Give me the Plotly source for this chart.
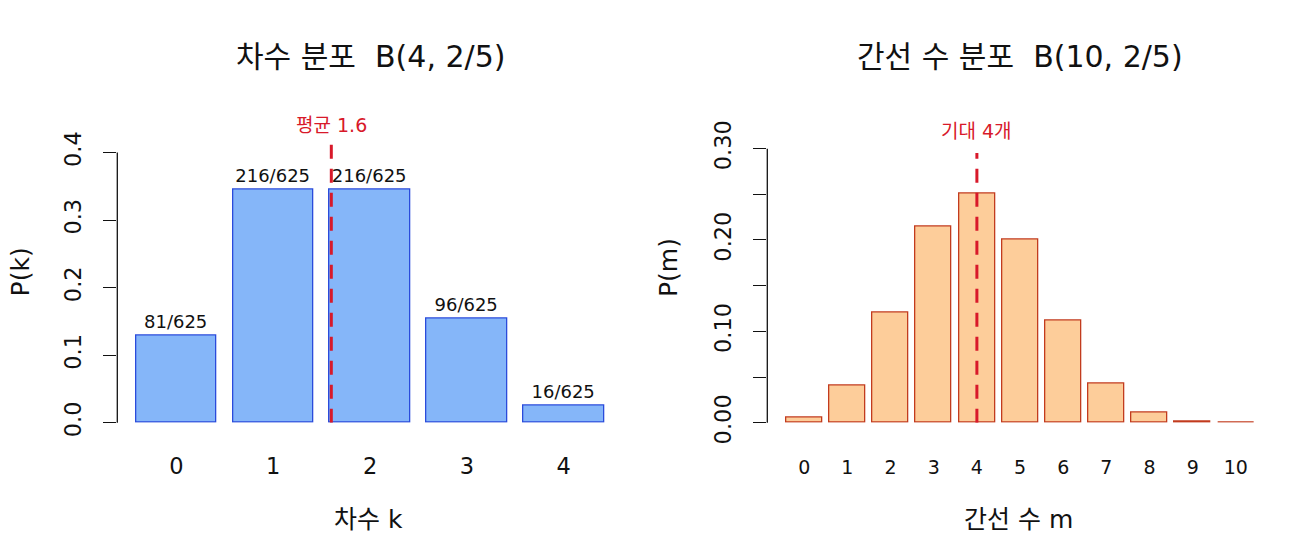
import plotly.graph_objects as go
from plotly.subplots import make_subplots

# left panel: degree distribution B(4, 2/5)
deg_k = [0, 1, 2, 3, 4]
deg_p = [0.1296, 0.3456, 0.3456, 0.1536, 0.0256]
deg_text = ["81/625", "216/625", "216/625", "96/625", "16/625"]
deg_mean = 1.6
deg_yticks = [0.0, 0.1, 0.2, 0.3, 0.4]
deg_yticktext = ["0.0", "0.1", "0.2", "0.3", "0.4"]

# right panel: number of edges B(10, 2/5)
edge_m = [0, 1, 2, 3, 4, 5, 6, 7, 8, 9, 10]
edge_p = [0.0060, 0.0403, 0.1209, 0.2150, 0.2508, 0.2007, 0.1115, 0.0425, 0.0106, 0.0016, 0.0001]
edge_mean = 4
edge_yticks = [0.0, 0.05, 0.10, 0.15, 0.20, 0.25, 0.30]
edge_yticktext = ["0.00", "", "0.10", "", "0.20", "", "0.30"]

FONT = "DejaVu Sans, Noto Sans CJK KR, sans-serif"
RED = "#D8192A"
INK = "#111111"

ytop_l = 0.4147
ytop_r = 0.3066
vline_top = [0.4147, 0.2952]

fig = make_subplots(rows=1, cols=2)

fig.add_trace(go.Bar(
    x=deg_k, y=deg_p, width=1 / 1.2,
    marker=dict(color="#85B6F9", line=dict(color="#2A4BDB", width=1.3)),
    text=deg_text, textposition="outside", cliponaxis=False,
    outsidetextfont=dict(family=FONT, size=18, color=INK),
    constraintext="none",
), row=1, col=1)

fig.add_trace(go.Bar(
    x=edge_m, y=edge_p, width=1 / 1.2,
    marker=dict(color="#FDCD9A", line=dict(color="#C23B1E", width=1.3)),
), row=1, col=2)

tick_font = dict(family=FONT, size=22.5, color=INK)
ydom = [117.3 / 540, (540 - 142.6) / 540]
common = dict(showline=False, showgrid=False, zeroline=False, automargin=False)

fig.update_layout(
    width=1300, height=540, autosize=False,
    margin=dict(l=0, r=0, t=0, b=0),
    paper_bgcolor="white", plot_bgcolor="white",
    showlegend=False, bargap=0,
    font=dict(family=FONT, color=INK),
    xaxis=dict(domain=[117.3 / 1300, 622.8 / 1300], range=[-0.61, 4.61],
               tickvals=deg_k, ticktext=[str(v) for v in deg_k], ticks="",
               tickfont=tick_font, ticklabelstandoff=28, **common),
    xaxis2=dict(domain=[767.3 / 1300, 1272.8 / 1300], range=[-0.856, 10.856],
                tickvals=edge_m, ticktext=[str(v) for v in edge_m], ticks="",
                tickfont=dict(family=FONT, size=19, color=INK), ticklabelstandoff=31, **common),
    yaxis=dict(domain=ydom, range=[0, ytop_l], tickvals=deg_yticks, ticktext=deg_yticktext,
               tickangle=-90, ticks="outside", ticklen=13, tickwidth=1.3, tickcolor=INK,
               tickfont=tick_font, ticklabelstandoff=13, **common),
    yaxis2=dict(domain=ydom, range=[0, ytop_r], tickvals=edge_yticks, ticktext=edge_yticktext,
                tickangle=-90, ticks="outside", ticklen=13, tickwidth=1.3, tickcolor=INK,
                tickfont=tick_font, ticklabelstandoff=13, **common),
)

# y axis lines only span the tick range, like base R axes
fig.add_shape(type="line", xref="x domain", yref="y domain", x0=0, x1=0,
              y0=0, y1=deg_yticks[-1] / ytop_l, line=dict(color=INK, width=1.3))
fig.add_shape(type="line", xref="x2 domain", yref="y2 domain", x0=0, x1=0,
              y0=0, y1=edge_yticks[-1] / ytop_r, line=dict(color=INK, width=1.3))

# mean lines
fig.add_shape(type="line", xref="x", yref="y", x0=deg_mean, x1=deg_mean, y0=0, y1=vline_top[0],
              line=dict(color=RED, width=3, dash="14px,10px"))
fig.add_shape(type="line", xref="x2", yref="y2", x0=edge_mean, x1=edge_mean, y0=0, y1=vline_top[1],
              line=dict(color=RED, width=3, dash="14px,10px"))

fig.add_annotation(x=deg_mean, xref="x", y=1, yref="y domain", xanchor="center", yanchor="middle",
                   yshift=18, text="평균 1.6", showarrow=False, font=dict(family=FONT, size=19, color=RED))
fig.add_annotation(x=edge_mean, xref="x2", y=1, yref="y2 domain", xanchor="center", yanchor="middle",
                   yshift=12, text="기대 4개", showarrow=False, font=dict(family=FONT, size=19, color=RED))

# titles and axis labels
title_font = dict(family=FONT, size=30, color=INK)
lab_font = dict(family=FONT, size=25, color=INK)
texts = [
    (370, 57, "차수 분포  B(4, 2/5)", title_font, 0),
    (1020, 57, "간선 수 분포  B(10, 2/5)", title_font, 0),
    (368, 519, "차수 k", lab_font, 0),
    (1018, 519, "간선 수 m", lab_font, 0),
    (20.7, 271.7, "P(k)", lab_font, -90),
    (668, 268, "P(m)", lab_font, -90),
]
for px, py, txt, fnt, ang in texts:
    fig.add_annotation(x=px / 1300, y=(540 - py) / 540, xref="paper", yref="paper",
                       xanchor="center", yanchor="middle", text=txt, textangle=ang,
                       showarrow=False, font=fnt)

fig.write_html("out.html", config={"displayModeBar": False},
               post_script="document.body.style.margin='0';")
